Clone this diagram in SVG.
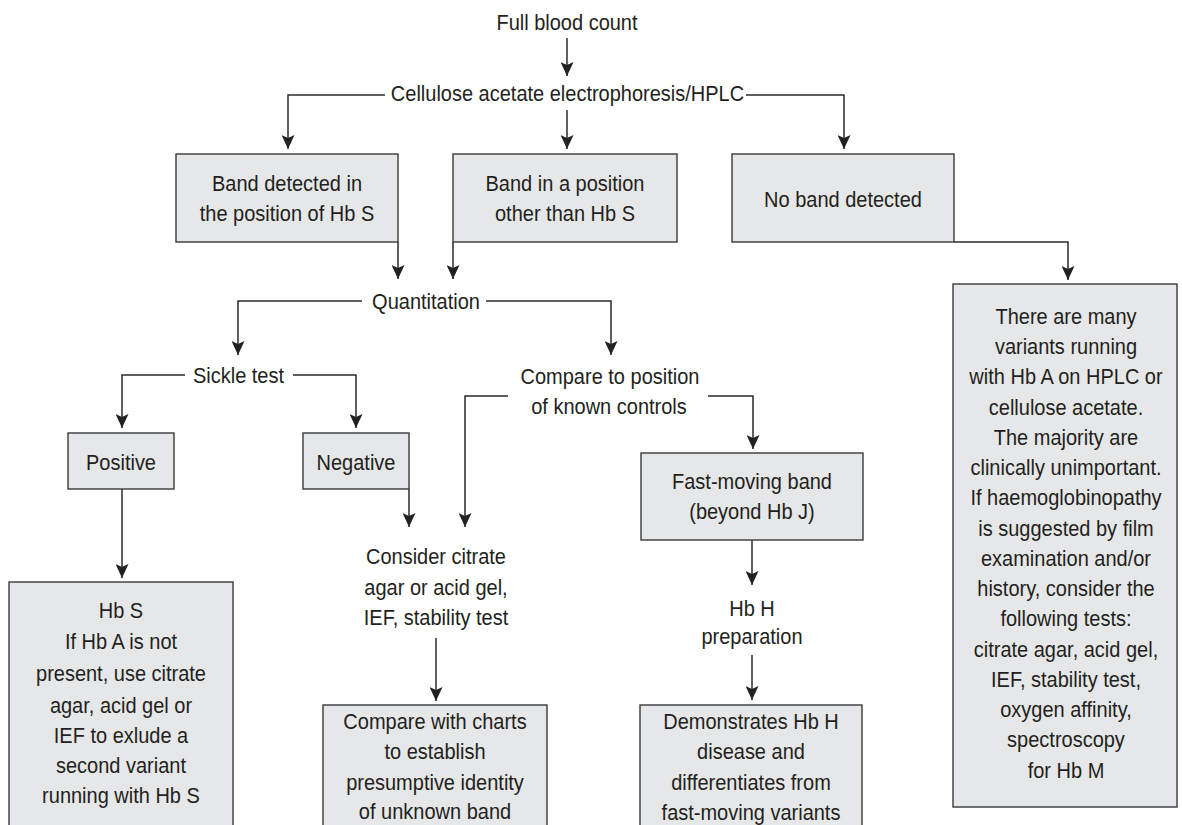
<svg xmlns="http://www.w3.org/2000/svg" width="1182" height="825" viewBox="0 0 1182 825">
<style>
.t{font-family:"Liberation Sans",Arial,sans-serif;font-size:20px;fill:#231f20;text-anchor:middle;transform-box:fill-box;transform-origin:center;transform:scaleY(1.12)}
.box{fill:#e6e7e8;stroke:#3a3a3a;stroke-width:1.4}
.c{fill:none;stroke:#2b2b2b;stroke-width:1.5}
</style>
<defs>
<marker id="ah" markerUnits="userSpaceOnUse" viewBox="0 0 14 13" markerWidth="14" markerHeight="13" refX="14" refY="6.5" orient="auto">
<path d="M0,0 L14,6.5 L0,13 L3,6.5 z" fill="#222"/>
</marker>
</defs>
<rect width="1182" height="825" fill="#fff"/>
<g id="connectors">
<path class="c" marker-end="url(#ah)" d="M567,38 V76"/>
<path class="c" marker-end="url(#ah)" d="M385,95 H288 V149"/>
<path class="c" marker-end="url(#ah)" d="M567,110 V149"/>
<path class="c" marker-end="url(#ah)" d="M746,95 H844 V149"/>
<path class="c" marker-end="url(#ah)" d="M398,242 V279"/>
<path class="c" marker-end="url(#ah)" d="M453,242 V279"/>
<path class="c" marker-end="url(#ah)" d="M954,242 H1068 V280"/>
<path class="c" marker-end="url(#ah)" d="M362,301 H238 V355"/>
<path class="c" marker-end="url(#ah)" d="M486,301 H611 V355"/>
<path class="c" marker-end="url(#ah)" d="M185,375 H122 V428"/>
<path class="c" marker-end="url(#ah)" d="M293,375 H356 V428"/>
<path class="c" marker-end="url(#ah)" d="M508,396 H465 V527"/>
<path class="c" marker-end="url(#ah)" d="M708,396 H753 V449"/>
<path class="c" marker-end="url(#ah)" d="M122,489 V578"/>
<path class="c" marker-end="url(#ah)" d="M409,489 V527"/>
<path class="c" marker-end="url(#ah)" d="M436,638 V701"/>
<path class="c" marker-end="url(#ah)" d="M752,540 V585"/>
<path class="c" marker-end="url(#ah)" d="M752,655 V700"/>
</g>
<g id="fbc"><text class="t" x="567" y="29">Full blood count</text></g>
<g id="cae"><text class="t" x="567.5" y="100">Cellulose acetate electrophoresis/HPLC</text></g>
<g id="band-hbs"><rect class="box" x="176" y="154" width="222" height="88"/>
<text class="t" x="287" y="190">Band detected in</text><text class="t" x="287" y="220">the position of Hb S</text></g>
<g id="band-other"><rect class="box" x="453" y="154" width="224" height="88"/>
<text class="t" x="565" y="190">Band in a position</text><text class="t" x="565" y="220">other than Hb S</text></g>
<g id="no-band"><rect class="box" x="732" y="154" width="222" height="88"/>
<text class="t" x="843" y="206">No band detected</text></g>
<g id="quant"><text class="t" x="426" y="308">Quantitation</text></g>
<g id="sickle"><text class="t" x="238.5" y="382">Sickle test</text></g>
<g id="compare-pos"><text class="t" x="610" y="383">Compare to position</text><text class="t" x="609" y="413">of known controls</text></g>
<g id="positive"><rect class="box" x="68" y="433" width="106" height="56"/><text class="t" x="121" y="469">Positive</text></g>
<g id="negative"><rect class="box" x="303" y="433" width="106" height="56"/><text class="t" x="356" y="469">Negative</text></g>
<g id="fast"><rect class="box" x="641" y="453" width="222" height="87"/>
<text class="t" x="752" y="488">Fast-moving band</text><text class="t" x="752" y="518">(beyond Hb J)</text></g>
<g id="consider"><text class="t" x="436" y="563">Consider citrate</text><text class="t" x="436" y="594">agar or acid gel,</text><text class="t" x="436" y="624">IEF, stability test</text></g>
<g id="hbh"><text class="t" x="752" y="615">Hb H</text><text class="t" x="752" y="643">preparation</text></g>
<g id="hbs"><rect class="box" x="9" y="582" width="224" height="260"/>
<text class="t" x="121" y="617">Hb S</text>
<text class="t" x="121" y="648">If Hb A is not</text>
<text class="t" x="121" y="680">present, use citrate</text>
<text class="t" x="121" y="712">agar, acid gel or</text>
<text class="t" x="121" y="742">IEF to exlude a</text>
<text class="t" x="121" y="772">second variant</text>
<text class="t" x="121" y="802">running with Hb S</text></g>
<g id="charts"><rect class="box" x="323" y="705" width="224" height="140"/>
<text class="t" x="435" y="728">Compare with charts</text>
<text class="t" x="435" y="758">to establish</text>
<text class="t" x="435" y="789">presumptive identity</text>
<text class="t" x="435" y="818">of unknown band</text></g>
<g id="demo"><rect class="box" x="640" y="705" width="222" height="140"/>
<text class="t" x="751" y="728">Demonstrates Hb H</text>
<text class="t" x="751" y="758">disease and</text>
<text class="t" x="751" y="789">differentiates from</text>
<text class="t" x="751" y="819">fast-moving variants</text></g>
<g id="variants"><rect class="box" x="953" y="284" width="224" height="523"/>
<text class="t" x="1066" y="323">There are many</text>
<text class="t" x="1066" y="353">variants running</text>
<text class="t" x="1066" y="383">with Hb A on HPLC or</text>
<text class="t" x="1066" y="414">cellulose acetate.</text>
<text class="t" x="1066" y="444">The majority are</text>
<text class="t" x="1066" y="474">clinically unimportant.</text>
<text class="t" x="1066" y="504">If haemoglobinopathy</text>
<text class="t" x="1066" y="535">is suggested by film</text>
<text class="t" x="1066" y="565">examination and/or</text>
<text class="t" x="1066" y="595">history, consider the</text>
<text class="t" x="1066" y="625">following tests:</text>
<text class="t" x="1066" y="656">citrate agar, acid gel,</text>
<text class="t" x="1066" y="686">IEF, stability test,</text>
<text class="t" x="1066" y="716">oxygen affinity,</text>
<text class="t" x="1066" y="746">spectroscopy</text>
<text class="t" x="1066" y="777">for Hb M</text></g>
</svg>
